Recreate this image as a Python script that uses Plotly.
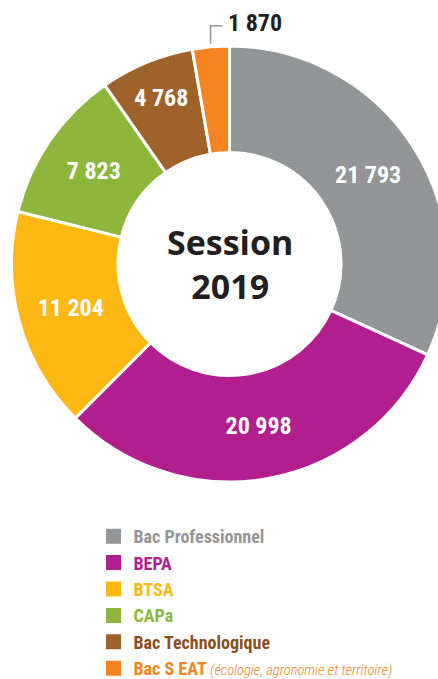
import math
import plotly.graph_objects as go

# ---- data ----
categories = ["Bac Professionnel", "BEPA", "BTSA", "CAPa", "Bac Technologique", "Bac S EAT"]
values = [21793, 20998, 11204, 7823, 4768, 1870]
value_labels = ["21 793", "20 998", "11 204", "7 823", "4 768", "1 870"]
legend_notes = ["", "", "", "", "", "(écologie, agronomie et territoire)"]
slice_colors = ["#939598", "#b11f8e", "#fdb813", "#8cb63c", "#a0622b", "#f58420"]
legend_text_colors = ["#939598", "#b11f8e", "#fdb813", "#8cb63c", "#8a4f1e", "#f58420"]
center_text = "Session<br>2019"

# ---- geometry (pixels); the page is slightly larger than the window ----
W, H = 450, 700
CX, CY, R = 229.5, 264.0, 218.0
HOLE = 111.5 / R

NARROW = "Roboto Condensed, Roboto, sans-serif"
DARK = "#231f20"


def px(x):
    return x / W


def py(y):
    return 1 - y / H


fig = go.Figure()

inside_pos = ["inside" if v / sum(values) > 0.04 else "none" for v in values]

fig.add_trace(go.Pie(
    labels=categories,
    values=values,
    text=value_labels,
    textinfo="text",
    textposition=inside_pos,
    insidetextorientation="horizontal",
    textfont=dict(family=NARROW, size=24, color="white", weight="bold"),
    marker=dict(colors=slice_colors, line=dict(color="white", width=3)),
    sort=False,
    direction="clockwise",
    rotation=0,
    hole=HOLE,
    showlegend=False,
    hoverinfo="label+value",
    domain=dict(x=[px(CX - R), px(CX + R)], y=[py(CY + R), py(CY - R)]),
))

for i, (cat, note, col, tcol) in enumerate(zip(categories, legend_notes, slice_colors, legend_text_colors)):
    name = f'<span style="color:{tcol}">{cat}</span>'
    if note:
        name += (f' <span style="color:{tcol};font-weight:300;font-style:italic;'
                 f'font-size:14.5px">{note}</span>')
    fig.add_trace(go.Scatter(
        x=[None], y=[None], mode="markers", name=name,
        legendgroup=f"g{i}",
        marker=dict(symbol="square", size=15, color=col),
        showlegend=True, hoverinfo="skip",
    ))

annotations = [
    dict(text=center_text, x=px(CX), y=py(CY), xref="paper", yref="paper",
         showarrow=False, xanchor="center", yanchor="middle", align="center",
         font=dict(family="Open Sans", size=34, color=DARK, weight="bold")),
]
shapes = []

total = sum(values)
cum = 0
for v, lab, pos in zip(values, value_labels, inside_pos):
    mid = (cum + v / 2) / total * 2 * math.pi
    cum += v
    if pos != "none":
        continue
    x0 = CX + (R + 3) * math.sin(mid)
    y0 = CY - (R + 3) * math.cos(mid)
    yk = y0 - 18
    xk = x0 + 12
    shapes.append(dict(
        type="path", xref="paper", yref="paper",
        path=f"M {px(x0)} {py(y0)} L {px(x0)} {py(yk)} L {px(xk)} {py(yk)}",
        line=dict(color="#939598", width=1.5),
    ))
    annotations.append(dict(
        text=lab, x=px(xk + 3), y=py(yk - 3), xref="paper", yref="paper",
        showarrow=False, xanchor="left", yanchor="middle",
        font=dict(family=NARROW, size=24, color=DARK, weight="bold"),
    ))

fig.update_layout(
    width=W, height=H, autosize=False,
    margin=dict(l=0, r=0, t=0, b=0, autoexpand=False),
    paper_bgcolor="white", plot_bgcolor="white",
    xaxis=dict(visible=False), yaxis=dict(visible=False),
    showlegend=True,
    legend=dict(
        x=px(93.5), y=py(518), xanchor="left", yanchor="top",
        font=dict(family=NARROW, size=18, color="#939598", weight="bold"),
        traceorder="grouped", tracegroupgap=0,
        itemclick=False, itemdoubleclick=False,
        bgcolor="rgba(0,0,0,0)", borderwidth=0,
    ),
    annotations=annotations,
    shapes=shapes,
)

fig.write_html(
    "out.html",
    config={"displayModeBar": False},
    post_script=("document.body.style.margin='0';"
                 "document.body.style.overflow='hidden';"
                 "document.documentElement.style.overflow='hidden';"),
)
